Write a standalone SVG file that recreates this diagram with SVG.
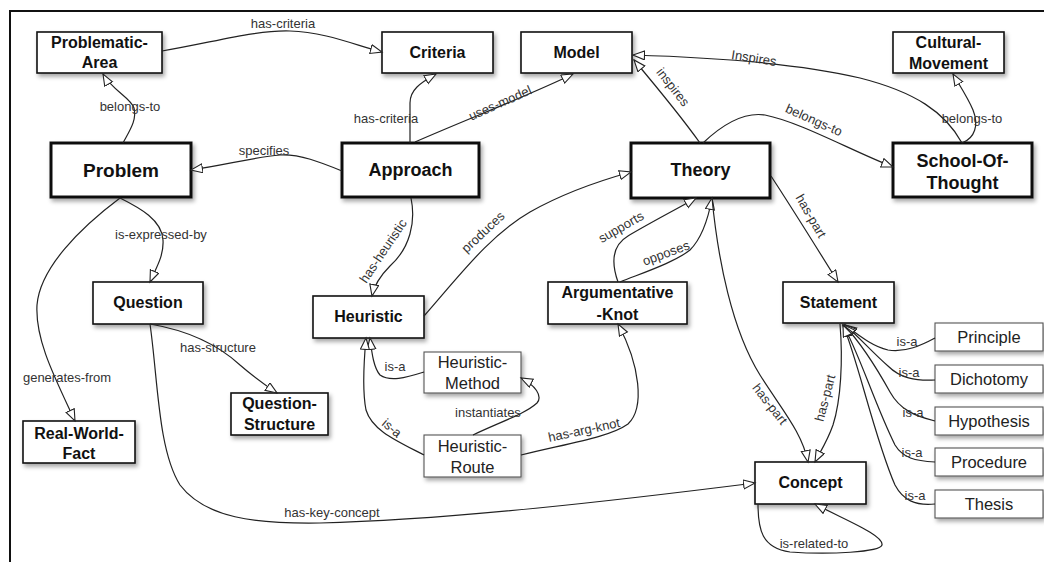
<svg xmlns="http://www.w3.org/2000/svg" width="1044" height="562" viewBox="0 0 1044 562">
<style>
.n rect{fill:#fff;filter:url(#sh)}
.k rect{stroke:#111;stroke-width:3}
.m rect{stroke:#111;stroke-width:1.6}
.t rect{stroke:#555;stroke-width:1.1}
.k text{font:bold 18px "Liberation Sans",Arial,sans-serif;fill:#111;text-anchor:middle}
.m text{font:bold 16px "Liberation Sans",Arial,sans-serif;fill:#111;text-anchor:middle}
.t text{font:16.5px "Liberation Sans",Arial,sans-serif;fill:#222;text-anchor:middle}
#edges path{fill:none;stroke:#222;stroke-width:1.2;marker-end:url(#ah)}
#edges path.na{marker-end:none}
.lb{font:13px "Liberation Sans",Arial,sans-serif;fill:#333;text-anchor:middle}
</style>
<defs>
<filter id="sh" x="-10%" y="-15%" width="130%" height="150%">
<feDropShadow dx="2" dy="3" stdDeviation="2" flood-color="#000" flood-opacity="0.35"/>
</filter>
<marker id="ah" markerUnits="userSpaceOnUse" markerWidth="14" markerHeight="12" refX="12" refY="5" orient="auto">
<path d="M0.5,0.5 L12,5 L0.5,9.5 Z" fill="#fff" stroke="#222" stroke-width="1.1"/>
</marker>
</defs>
<rect width="1044" height="562" fill="#fff"/>
<path d="M10,562 L10,11 L1044,11" fill="none" stroke="#111" stroke-width="2"/>

<g id="nodes">
<g id="problematic-area" class="n m"><rect x="37" y="32" width="125" height="41"/><text x="99.5" y="48">Problematic-</text><text x="99.5" y="68">Area</text></g>
<g id="criteria" class="n m"><rect x="382" y="32" width="111" height="41"/><text x="437.5" y="58">Criteria</text></g>
<g id="model" class="n m"><rect x="521" y="32" width="111" height="41"/><text x="576.5" y="58">Model</text></g>
<g id="cultural-movement" class="n m"><rect x="893" y="32" width="111" height="41"/><text x="948.5" y="48">Cultural-</text><text x="948.5" y="69">Movement</text></g>
<g id="problem" class="n k"><rect x="51" y="143" width="140" height="54"/><text x="121" y="177" style="font-size:19px">Problem</text></g>
<g id="approach" class="n k"><rect x="342" y="143" width="137" height="54"/><text x="410.5" y="176">Approach</text></g>
<g id="theory" class="n k"><rect x="631" y="143" width="139" height="55"/><text x="700.5" y="176">Theory</text></g>
<g id="school-of-thought" class="n k"><rect x="893" y="143" width="139" height="54"/><text x="962.5" y="167">School-Of-</text><text x="962.5" y="189">Thought</text></g>
<g id="question" class="n m"><rect x="93" y="282" width="110" height="42"/><text x="148" y="308">Question</text></g>
<g id="heuristic" class="n m"><rect x="313" y="296" width="111" height="42"/><text x="368.5" y="322">Heuristic</text></g>
<g id="argumentative-knot" class="n m"><rect x="548" y="282" width="139" height="42"/><text x="617.5" y="298">Argumentative</text><text x="617.5" y="320">-Knot</text></g>
<g id="statement" class="n m"><rect x="783" y="282" width="111" height="41"/><text x="838.5" y="308">Statement</text></g>
<g id="question-structure" class="n m"><rect x="231" y="393" width="97" height="42"/><text x="279.5" y="409">Question-</text><text x="279.5" y="430">Structure</text></g>
<g id="real-world-fact" class="n m"><rect x="23" y="421" width="112" height="42"/><text x="79" y="439">Real-World-</text><text x="79" y="459">Fact</text></g>
<g id="concept" class="n m"><rect x="755" y="462" width="111" height="42"/><text x="810.5" y="488">Concept</text></g>
<g id="heuristic-method" class="n t"><rect x="424" y="352" width="97" height="41"/><text x="472.5" y="368">Heuristic-</text><text x="472.5" y="389">Method</text></g>
<g id="heuristic-route" class="n t"><rect x="424" y="435" width="97" height="42"/><text x="472.5" y="452">Heuristic-</text><text x="472.5" y="473">Route</text></g>
<g id="principle" class="n t"><rect x="935" y="323" width="108" height="28"/><text x="989" y="343">Principle</text></g>
<g id="dichotomy" class="n t"><rect x="935" y="365" width="108" height="28"/><text x="989" y="385">Dichotomy</text></g>
<g id="hypothesis" class="n t"><rect x="935" y="407" width="108" height="28"/><text x="989" y="427">Hypothesis</text></g>
<g id="procedure" class="n t"><rect x="935" y="448" width="108" height="28"/><text x="989" y="468">Procedure</text></g>
<g id="thesis" class="n t"><rect x="935" y="490" width="108" height="28"/><text x="989" y="510">Thesis</text></g>
</g>

<g id="edges">
<path d="M162,51 C215,42 255,30 290,31 C325,32 355,45 382,52"/>
<path d="M123,143 C130,130 137,120 134,108 C131,98 112,90 103,74"/>
<path d="M342,171 C320,162 300,154 280,155 C255,157 225,165 191,170"/>
<path d="M410,143 L410,103 C410,90 420,83 436,74"/>
<path d="M415,142 C470,118 530,95 573,74"/>
<path d="M700,143 C680,115 655,85 634,60"/>
<path d="M962,143 C945,112 915,92 860,78 C810,66 730,58 633,55"/>
<path d="M703,143 C725,122 745,112 765,115 C800,122 850,150 893,167"/>
<path d="M962,143 C975,138 979,125 973,110 C968,98 960,86 953,74"/>
<path d="M411,198 C416,222 410,248 390,266 C380,276 374,286 372,296"/>
<path d="M424,316 C460,275 490,235 530,212 C560,195 595,182 631,172"/>
<path d="M618,282 C612,265 611,246 628,236 C648,224 675,210 696,198"/>
<path d="M620,282 C645,272 675,262 690,250 C702,238 708,220 712,198"/>
<path d="M771,176 C790,205 815,245 838,282"/>
<path d="M712,198 C718,260 732,330 760,375 C782,410 802,432 808,462"/>
<path d="M840,324 C843,360 841,400 833,425 C827,442 820,452 815,462"/>
<path d="M935,338 C922,345 905,353 888,350 C872,346 860,336 845,325"/>
<path d="M935,380 C915,381 900,378 888,366 C872,352 860,338 845,325"/>
<path d="M935,421 C915,416 900,410 890,392 C875,365 858,340 844,325"/>
<path d="M935,462 C915,461 903,458 895,445 C875,405 858,350 843,325"/>
<path d="M935,504 C915,506 903,500 895,485 C875,440 858,360 843,325"/>
<path d="M120,198 C140,208 162,220 163,240 C164,256 156,268 150,282"/>
<path d="M120,198 C80,228 40,268 37,305 C35,340 55,378 75,421"/>
<path d="M150,324 C185,330 215,342 240,365 C255,378 265,385 277,393"/>
<path d="M150,324 C158,380 158,450 180,485 C205,518 255,524 320,523 C450,520 620,500 755,483"/>
<path d="M424,372 C405,378 390,382 380,375 C374,368 372,355 370,338"/>
<path d="M424,455 C395,440 372,430 366,410 C362,390 364,360 366,338"/>
<path d="M473,435 C500,422 525,414 537,403 C543,396 535,385 521,378"/>
<path d="M521,455 C570,443 610,437 628,424 C645,408 640,365 618,324"/>
<path d="M758,504 C758,530 762,548 790,552 C830,555 880,552 882,545 C884,535 845,520 815,504"/>
</g>

<g id="labels">
<text class="lb" x="283" y="28">has-criteria</text>
<text class="lb" x="130" y="111">belongs-to</text>
<text class="lb" x="264" y="155">specifies</text>
<text class="lb" x="386" y="123">has-criteria</text>
<text class="lb" transform="translate(500,103) rotate(-24)" y="4.5">uses-model</text>
<text class="lb" transform="translate(673,87) rotate(52)" y="4.5">inspires</text>
<text class="lb" transform="translate(754,58) rotate(9)" y="4.5">Inspires</text>
<text class="lb" transform="translate(814,120) rotate(24)" y="4.5">belongs-to</text>
<text class="lb" x="972" y="123">belongs-to</text>
<text class="lb" transform="translate(383,251) rotate(-56)" y="4.5">has-heuristic</text>
<text class="lb" transform="translate(483,232) rotate(-43)" y="4.5">produces</text>
<text class="lb" transform="translate(621,227) rotate(-30)" y="4.5">supports</text>
<text class="lb" transform="translate(666,253) rotate(-20)" y="4.5">opposes</text>
<text class="lb" transform="translate(811,216) rotate(60)" y="4.5">has-part</text>
<text class="lb" transform="translate(770,404) rotate(52)" y="4.5">has-part</text>
<text class="lb" transform="translate(825,398) rotate(-75)" y="4.5">has-part</text>
<text class="lb" x="907" y="346">is-a</text>
<text class="lb" x="909" y="377">is-a</text>
<text class="lb" x="913" y="417">is-a</text>
<text class="lb" x="912" y="457">is-a</text>
<text class="lb" x="915" y="500">is-a</text>
<text class="lb" x="161" y="239">is-expressed-by</text>
<text class="lb" x="67" y="382">generates-from</text>
<text class="lb" x="218" y="352">has-structure</text>
<text class="lb" x="332" y="517">has-key-concept</text>
<text class="lb" x="395" y="371">is-a</text>
<text class="lb" transform="translate(392,428) rotate(40)" y="4.5">is-a</text>
<text class="lb" x="488" y="417">instantiates</text>
<text class="lb" transform="translate(584,430) rotate(-12)" y="4.5">has-arg-knot</text>
<text class="lb" x="814" y="548">is-related-to</text>
</g>
</svg>
